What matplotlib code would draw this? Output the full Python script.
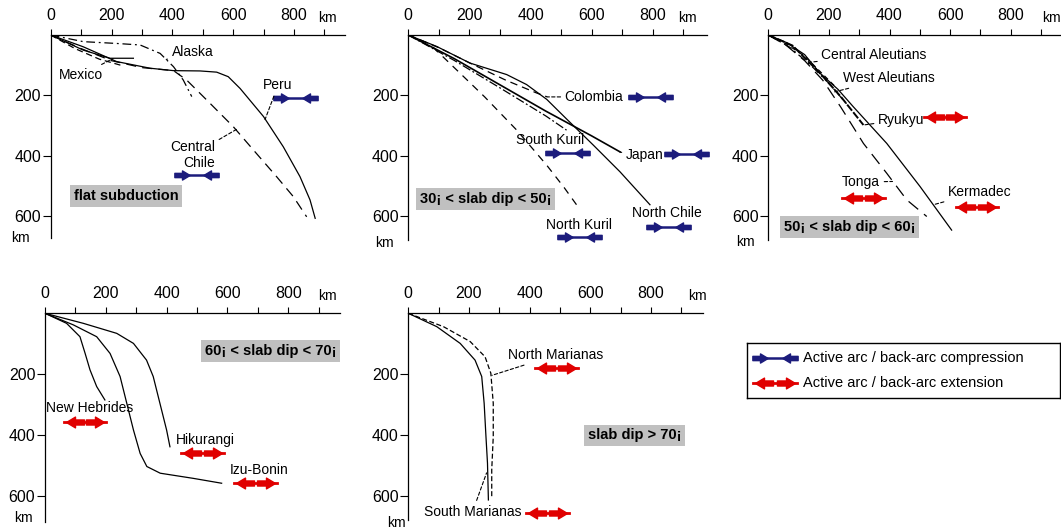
import matplotlib.pyplot as plt
from matplotlib.path import Path

plt.rcParams['font.family'] = ['Liberation Sans', 'DejaVu Sans']

W, H = 1061, 531
BLUE = '#1c1c7c'
RED = '#e00000'
GREY = '#c0c0c0'

# ---- flat subduction (distance from trench, depth; km)
peru_x = [0, 107, 217, 327, 404, 491, 546, 584, 623, 700, 765, 820, 853, 870]
peru_z = [0, 39, 88, 110, 118, 119, 123, 138, 177, 270, 370, 469, 546, 607]
cchile_x = [0, 100, 200, 300, 404, 447, 513, 601, 667, 743, 798, 842]
cchile_z = [0, 45, 85, 108, 118, 149, 215, 304, 381, 469, 535, 602]
alaska_x = [0, 107, 217, 294, 360, 404, 436, 464]
alaska_z = [0, 22, 28, 33, 61, 105, 149, 204]
mexico_x = [0, 107, 195, 272]
mexico_z = [0, 50, 77, 77]
mexico2_x = [0, 80, 160, 230]
mexico2_z = [0, 45, 80, 100]

# ---- 30-50 deg
nchile_x = [0, 93, 202, 322, 387, 453, 518, 606, 693, 791]
nchile_z = [0, 38, 93, 131, 164, 213, 278, 365, 453, 562]
japan_x = [0, 150, 300, 450, 600, 693]
japan_z = [0, 78, 165, 252, 334, 387]
skuril_x = [0, 150, 300, 450, 518]
skuril_z = [0, 84, 175, 268, 315]
nkuril_x = [0, 70, 136, 250, 355, 453, 510, 562]
nkuril_z = [0, 30, 94, 205, 315, 431, 505, 578]
colombia_x = [0, 100, 200, 320, 420, 455]
colombia_z = [0, 42, 92, 150, 192, 205]

# ---- 50-60 deg
kermadec_x = [0, 60, 120, 171, 230, 280, 391, 501, 605]
kermadec_z = [0, 25, 65, 127, 180, 237, 359, 502, 646]
tonga_x = [0, 60, 120, 180, 240, 314, 391, 457, 523]
tonga_z = [0, 35, 85, 150, 240, 359, 458, 546, 601]
ryukyu_x = [0, 80, 171, 240, 314]
ryukyu_z = [0, 35, 127, 205, 298]
caleut_x = [0, 60, 120, 170, 220]
caleut_z = [0, 30, 70, 120, 170]
waleut_x = [0, 70, 140, 200, 260]
waleut_z = [0, 40, 100, 160, 230]

# ---- 60-70 deg
hebrides_x = [0, 71, 115, 132, 148, 170, 197]
hebrides_z = [0, 33, 77, 132, 186, 241, 285]
izu_x = [0, 93, 170, 214, 247, 269, 291, 313, 335, 379, 488, 581]
izu_z = [0, 38, 77, 132, 208, 296, 384, 461, 504, 526, 543, 559]
hikurangi_x = [0, 126, 236, 291, 334, 356, 378, 400, 411]
hikurangi_z = [0, 33, 66, 99, 154, 208, 296, 384, 439]

# ---- > 70 deg
smar_x = [0, 94, 171, 220, 242, 250, 256, 261, 264]
smar_z = [0, 44, 99, 154, 208, 296, 406, 493, 614]
nmar_x = [0, 116, 204, 253, 272, 280, 280, 275, 275]
nmar_z = [0, 44, 93, 143, 197, 296, 406, 515, 603]

x_ticks = [0, 200, 400, 600, 800]
y_ticks = [200, 400, 600]

ARROW_R = Path([(-1, -0.28), (0.0, -0.28), (0.0, -0.6), (1, 0),
                (0.0, 0.6), (0.0, 0.28), (-1, 0.28), (-1, -0.28)], closed=True)
ARROW_L = Path([(-x, y) for x, y in ARROW_R.vertices], ARROW_R.codes)


def stress_symbol(ax, x, z, kind, scale=1.0):
    s = scale
    if kind == 'c':
        ax.plot([x - 66 * s, x + 66 * s], [z, z], color=BLUE, lw=1.8, clip_on=False)
        ax.plot([x - 48 * s], [z], marker=ARROW_R, ms=11, color=BLUE, clip_on=False)
        ax.plot([x + 48 * s], [z], marker=ARROW_L, ms=11, color=BLUE, clip_on=False)
    else:
        ax.plot([x - 70 * s, x + 70 * s], [z, z], color=RED, lw=2.0, clip_on=False)
        ax.plot([x - 34 * s], [z], marker=ARROW_L, ms=13, color=RED, clip_on=False)
        ax.plot([x + 34 * s], [z], marker=ARROW_R, ms=13, color=RED, clip_on=False)


def make_axes(fig, left, top, right, bottom, sx, sy, km_dx, km_dy):
    ax = fig.add_axes([left / W, 1 - bottom / H, (right - left) / W, (bottom - top) / H])
    xmax = (right - left) / sx
    ax.set_xlim(0, xmax)
    ax.set_ylim((bottom - top) / sy, 0)
    for side in ['right', 'bottom']:
        ax.spines[side].set_visible(False)
    for side in ['left', 'top']:
        ax.spines[side].set_linewidth(0.9)
    ax.xaxis.tick_top()
    ax.set_xticks(x_ticks)
    ax.set_xticks([v for v in range(100, 1000, 200) if v < xmax], minor=True)
    ax.set_yticks(y_ticks)
    ax.tick_params(axis='x', which='both', direction='out', length=4, width=0.8,
                   pad=5, labelsize=11.5)
    ax.tick_params(axis='y', direction='out', length=6, width=0.8, pad=1, labelsize=11.5)
    ax.patch.set_alpha(0)
    # unit labels
    ax.annotate('km', xy=(1, 1), xycoords='axes fraction', xytext=(km_dx, 17),
                textcoords='offset pixels', ha='center', va='center', fontsize=10)
    ax.annotate('km', xy=(0, 0), xycoords='axes fraction', xytext=(km_dy[0], km_dy[1]),
                textcoords='offset pixels', ha='center', va='center', fontsize=10)
    return ax


def box_label(ax, x, z, s):
    ax.text(x, z, s, ha='center', va='center', fontsize=10.5, fontweight='bold',
            bbox=dict(boxstyle='square,pad=0.25', fc=GREY, ec='none'))


def label(ax, s, xy_text, xy=None, ha='center', va='center'):
    if xy is None:
        ax.text(xy_text[0], xy_text[1], s, ha=ha, va=va, fontsize=10)
    else:
        ax.annotate(s, xy=xy, xytext=xy_text, ha=ha, va=va, fontsize=10,
                    arrowprops=dict(arrowstyle='-', lw=0.8, ls=(0, (3, 2)),
                                    shrinkA=1, shrinkB=0))


fig = plt.figure(figsize=(W / 100, H / 100), dpi=100)

# panel 1
ax1 = make_axes(fig, 50.7, 35, 345, 238, 0.304, 0.302, -18, (-30, 0))
ax1.plot(peru_x, peru_z, color='k', lw=0.9)
ax1.plot(cchile_x, cchile_z, color='k', lw=0.9, ls=(0, (8, 5)))
ax1.plot(alaska_x, alaska_z, color='k', lw=0.9, ls=(0, (7, 3, 1.5, 3)))
ax1.plot(mexico_x, mexico_z, color='k', lw=0.9)
ax1.plot(mexico2_x, mexico2_z, color='k', lw=0.9, ls=(0, (5, 3)))
label(ax1, 'Alaska', (466, 56), xy=(380, 81))
label(ax1, 'Mexico', (101, 132), xy=(205, 78))
label(ax1, 'Peru', (748, 166), xy=(705, 280))
label(ax1, 'Central\nChile', (541, 397), xy=(612, 312), ha='right')
stress_symbol(ax1, 806, 209, 'c')
stress_symbol(ax1, 480, 464, 'c')
box_label(ax1, 249, 533, 'flat subduction')

# panel 2
ax2 = make_axes(fig, 408.3, 35, 707, 240, 0.3055, 0.302, -20, (-24, -3))
ax2.plot(nchile_x, nchile_z, color='k', lw=0.9)
ax2.plot(japan_x, japan_z, color='k', lw=1.2)
ax2.plot(skuril_x, skuril_z, color='k', lw=0.9, ls=(0, (7, 2, 1.5, 2)))
ax2.plot(nkuril_x, nkuril_z, color='k', lw=0.9, ls=(0, (6, 5)))
ax2.plot(colombia_x, colombia_z, color='k', lw=0.9, ls=(0, (6, 4)))
label(ax2, 'Colombia', (512, 205), xy=(455, 205), ha='left')
label(ax2, 'South Kuril', (464, 348))
label(ax2, 'Japan', (712, 397), xy=(693, 388), ha='left')
label(ax2, 'North Kuril', (560, 629))
label(ax2, 'North Chile', (848, 590))
for x, z in [(793, 205), (522, 391), (911, 394), (560, 669), (852, 635)]:
    stress_symbol(ax2, x, z, 'c')
box_label(ax2, 253, 543, '30¡ < slab dip < 50¡')

# panel 3
ax3 = make_axes(fig, 768.3, 35, 1061, 240, 0.303, 0.302, -10, (-23, -2))
ax3.plot(kermadec_x, kermadec_z, color='k', lw=0.9)
ax3.plot(tonga_x, tonga_z, color='k', lw=0.9, ls=(0, (10, 6)))
ax3.plot(ryukyu_x, ryukyu_z, color='k', lw=1.4, ls=(0, (4, 1)))
ax3.plot(caleut_x, caleut_z, color='k', lw=0.9, ls=(0, (4, 3)))
ax3.plot(waleut_x, waleut_z, color='k', lw=0.9, ls=(0, (7, 3, 1.5, 3)))
label(ax3, 'Central Aleutians', (175, 66), xy=(140, 90), ha='left')
label(ax3, 'West Aleutians', (246, 143), xy=(212, 190), ha='left')
label(ax3, 'Ryukyu', (362, 281), xy=(314, 298), ha='left')
label(ax3, 'Tonga', (369, 487), xy=(410, 485), ha='right')
label(ax3, 'Kermadec', (593, 520), xy=(545, 562), ha='left')
for x, z in [(583, 272), (314, 540), (688, 569)]:
    stress_symbol(ax3, x, z, 'e')
box_label(ax3, 268, 636, '50¡ < slab dip < 60¡')

# panel 4
ax4 = make_axes(fig, 45, 313.3, 340, 522, 0.304, 0.304, -13, (-22, 4))
ax4.plot(hebrides_x, hebrides_z, color='k', lw=0.9)
ax4.plot(izu_x, izu_z, color='k', lw=0.9)
ax4.plot(hikurangi_x, hikurangi_z, color='k', lw=0.9)
label(ax4, 'New Hebrides', (146, 311))
label(ax4, 'Hikurangi', (528, 417))
label(ax4, 'Izu-Bonin', (704, 516))
for x, z in [(132, 358), (518, 459), (693, 559)]:
    stress_symbol(ax4, x, z, 'e')
box_label(ax4, 743, 124, '60¡ < slab dip < 70¡')

# panel 5
ax5 = make_axes(fig, 408.3, 313.3, 703, 520, 0.3034, 0.304, -6, (-12, -3))
ax5.plot(smar_x, smar_z, color='k', lw=0.9)
ax5.plot(nmar_x, nmar_z, color='k', lw=0.9, ls=(0, (4, 2)))
label(ax5, 'North Marianas', (330, 137), xy=(276, 204), ha='left')
label(ax5, 'South Marianas', (212, 652), xy=(258, 525))
for x, z in [(489, 181), (459, 658)]:
    stress_symbol(ax5, x, z, 'e')
box_label(ax5, 745, 401, 'slab dip > 70¡')

# legend
lg = fig.add_axes([747 / W, 1 - 398 / H, 313 / W, 55 / H])
lg.set_xlim(0, 313)
lg.set_ylim(55, 0)
lg.set_xticks([])
lg.set_yticks([])
for sp in lg.spines.values():
    sp.set_linewidth(1.0)
stress_symbol(lg, 28, 15, 'c', scale=0.31)
stress_symbol(lg, 28, 40, 'e', scale=0.31)
lg.text(56, 15, 'Active arc / back-arc compression', va='center', fontsize=10.5)
lg.text(56, 40, 'Active arc / back-arc extension', va='center', fontsize=10.5)

fig.savefig('out.png', dpi=100)
